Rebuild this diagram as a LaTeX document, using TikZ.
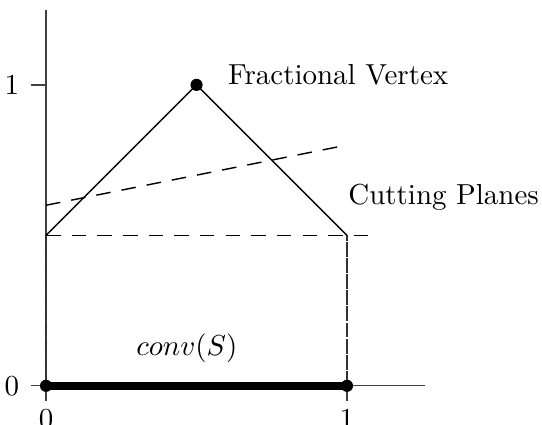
\documentclass[tikz,border=0pt]{standalone}
\begin{document}
\begin{tikzpicture}[x=4cm,y=4cm,
  every node/.style={font=\fontsize{10.95pt}{13.6pt}\selectfont},
  axisline/.style={black!75,line width=0.5pt},
  edge/.style={black,line width=0.55pt},
  cutline/.style={black,line width=0.55pt,dash pattern=on 5.5pt off 4.2pt},
  sideline/.style={black!80,line width=0.6pt,dash pattern=on 5.6pt off 0.5pt},
  dot/.style={circle,fill=black,inner sep=0pt,minimum size=4.6pt},
  lbl/.style={inner sep=0pt}]
\useasboundingbox (-0.153,-0.129) rectangle (1.648,1.282);
% axes
\coordinate (xs) at (-0.05,0);
\coordinate (xe) at (1.26,0);
\coordinate (ys) at (0,-0.05);
\coordinate (ye) at (0,1.25);
\draw[axisline] (xs) -- (xe);
\draw[axisline] (ys) -- (ye);
\coordinate (t1a) at (-0.05,1);
\coordinate (t1b) at (0,1);
\coordinate (t2a) at (1,0);
\coordinate (t2b) at (1,-0.05);
\draw[axisline] (t1a) -- (t1b);
\draw[axisline] (t2a) -- (t2b);
\node[lbl,anchor=east] (ly0) at (-0.088,0) {0};
\node[lbl,anchor=east] (ly1) at (-0.088,1) {1};
\node[lbl] (lx0) at (0,-0.11) {0};
\node[lbl] (lx1) at (1,-0.11) {1};
% polytope
\coordinate (A) at (0,0);
\coordinate (B) at (0,0.5);
\coordinate (C) at (0.5,1);
\coordinate (D) at (1,0.5);
\coordinate (E) at (1,0);
\draw[sideline] (A) -- (B);
\draw[sideline] (E) -- (D);
\draw[edge] (B) -- (C) -- (D);
% cutting planes
\coordinate (c1s) at (0,0.5);
\coordinate (c1e) at (1.1,0.5);
\coordinate (c2s) at (0,0.6);
\coordinate (c2e) at (1,0.8);
\draw[cutline] (c1s) -- (c1e);
\draw[cutline] (c2s) -- (c2e);
% conv(S)
\draw[black,line width=3pt] (A) -- (E);
\node[dot] (dA) at (A) {};
\node[dot] (dE) at (E) {};
\node[dot] (dC) at (C) {};
\node[lbl,anchor=west] (fv) at (0.603,1.033) {Fractional Vertex};
\node[lbl,anchor=west] (cp) at (1.003,0.628) {Cutting Planes};
\node[lbl] (cs) at (0.468,0.126) {$conv(S)$};
\end{tikzpicture}
\end{document}
